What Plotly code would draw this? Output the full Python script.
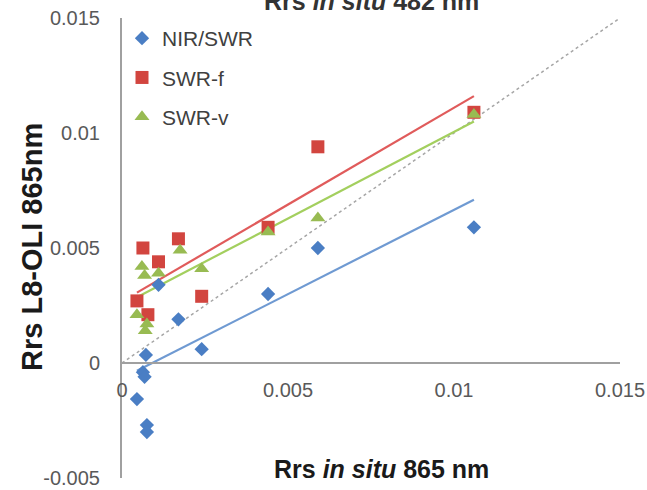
import plotly.graph_objects as go
import numpy as np

# ---- data ----
nir_x = [0.00045, 0.00063, 0.00068, 0.00072, 0.00075, 0.00075, 0.0011, 0.0017, 0.0024, 0.0044, 0.0059, 0.0106]
nir_y = [-0.00157, -0.0004, -0.0006, 0.00035, -0.0027, -0.0030, 0.0034, 0.0019, 0.0006, 0.0030, 0.0050, 0.0059]

swrf_x = [0.00045, 0.00063, 0.00078, 0.0011, 0.0017, 0.0024, 0.0044, 0.0059, 0.0106]
swrf_y = [0.0027, 0.0050, 0.0021, 0.0044, 0.0054, 0.0029, 0.0059, 0.0094, 0.0109]

swrv_x = [0.00045, 0.0006, 0.00068, 0.0007, 0.00075, 0.0011, 0.00175, 0.0024, 0.0044, 0.0059, 0.0106]
swrv_y = [0.0021, 0.0042, 0.0038, 0.0014, 0.0017, 0.0039, 0.0049, 0.0041, 0.0057, 0.0063, 0.0108]

# linear trend lines (slope, intercept) as drawn in the reference
nir_fit = [0.733, -0.00067]
swrf_fit = [0.842, 0.00268]
swrv_fit = [0.753, 0.00252]

one_to_one = [0.0, 0.015]

x_ticks = [0, 0.005, 0.01, 0.015]
y_ticks = [-0.005, 0, 0.005, 0.01, 0.015]

series_names = ["NIR/SWR", "SWR-f", "SWR-v"]
marker_colors = ["#4A7EC4", "#D2453F", "#98BB52"]
line_colors = ["#6F9AD2", "#E05B5B", "#A3CF5E"]

fig = go.Figure()

# 1:1 line
fig.add_trace(go.Scatter(x=one_to_one, y=one_to_one, mode="lines",
                         line=dict(color="#A6A6A6", width=1.5, dash="dot"),
                         showlegend=False, hoverinfo="skip"))

# trend lines
for xs, fit, col in [(nir_x, nir_fit, line_colors[0]),
                     (swrf_x, swrf_fit, line_colors[1]),
                     (swrv_x, swrv_fit, line_colors[2])]:
    xl = np.array([min(xs), max(xs)])
    yl = fit[0] * xl + fit[1]
    fig.add_trace(go.Scatter(x=xl, y=yl, mode="lines",
                             line=dict(color=col, width=2.2),
                             showlegend=False, hoverinfo="skip"))

# markers
fig.add_trace(go.Scatter(x=nir_x, y=nir_y, mode="markers", name=series_names[0],
                         legendgroup="a",
                         marker=dict(symbol="diamond", size=11, color=marker_colors[0])))
fig.add_trace(go.Scatter(x=swrf_x, y=swrf_y, mode="markers", name=series_names[1],
                         legendgroup="b",
                         marker=dict(symbol="square", size=13, color=marker_colors[1])))
fig.add_trace(go.Scatter(x=swrv_x, y=swrv_y, mode="markers", name=series_names[2],
                         legendgroup="c",
                         marker=dict(symbol="triangle-up", size=13, color=marker_colors[2])))

tick_font = dict(family="Liberation Sans, Arial", size=20, color="#595959")

fig.update_layout(
    width=647, height=490,
    margin=dict(l=122, r=27, t=18, b=12, autoexpand=False),
    paper_bgcolor="white", plot_bgcolor="white",
    font=dict(family="Liberation Sans, Arial"),
    xaxis=dict(range=[0, 0.015], tickvals=x_ticks, ticktext=[f"{v:g}" for v in x_ticks],
               showgrid=False, zeroline=False, showline=True, linecolor="#A0A0A0",
               linewidth=2, ticks="", anchor="free", position=0.25, automargin=False,
               tickfont=tick_font, ticklabelstandoff=9),
    yaxis=dict(range=[-0.005, 0.015], tickvals=y_ticks, ticktext=[f"{v:g}" for v in y_ticks],
               showgrid=False, zeroline=False, showline=True, linecolor="#A0A0A0",
               linewidth=2, ticks="", tickfont=tick_font, ticklabelstandoff=16,
               automargin=False),
    legend=dict(x=0.0, y=1.0, xanchor="left", yanchor="top",
                font=dict(family="Liberation Sans, Arial", size=21, color="#404040"),
                bgcolor="rgba(0,0,0,0)", tracegroupgap=9, traceorder="grouped"),
    showlegend=True,
)

fig.add_annotation(text="<b>Rrs <i>in situ</i> 865 nm</b>", xref="paper", yref="paper",
                   x=0.522, y=0.0196, xanchor="center", yanchor="middle", showarrow=False,
                   font=dict(family="Liberation Sans, Arial", size=25, color="#1A1A1A"))
fig.add_annotation(text="<b>Rrs L8-OLI 865nm</b>", xref="paper", yref="paper",
                   x=-0.181, y=0.502, xanchor="center", yanchor="middle", showarrow=False,
                   textangle=-90,
                   font=dict(family="Liberation Sans, Arial", size=29, color="#1A1A1A"))
fig.add_annotation(text="<b>Rrs <i>in situ</i> 482 nm</b>", xref="paper", yref="paper",
                   x=0.5, y=1.037, xanchor="center", yanchor="middle", showarrow=False,
                   font=dict(family="Liberation Sans, Arial", size=25, color="#333333"))

fig.write_html("out.html")
